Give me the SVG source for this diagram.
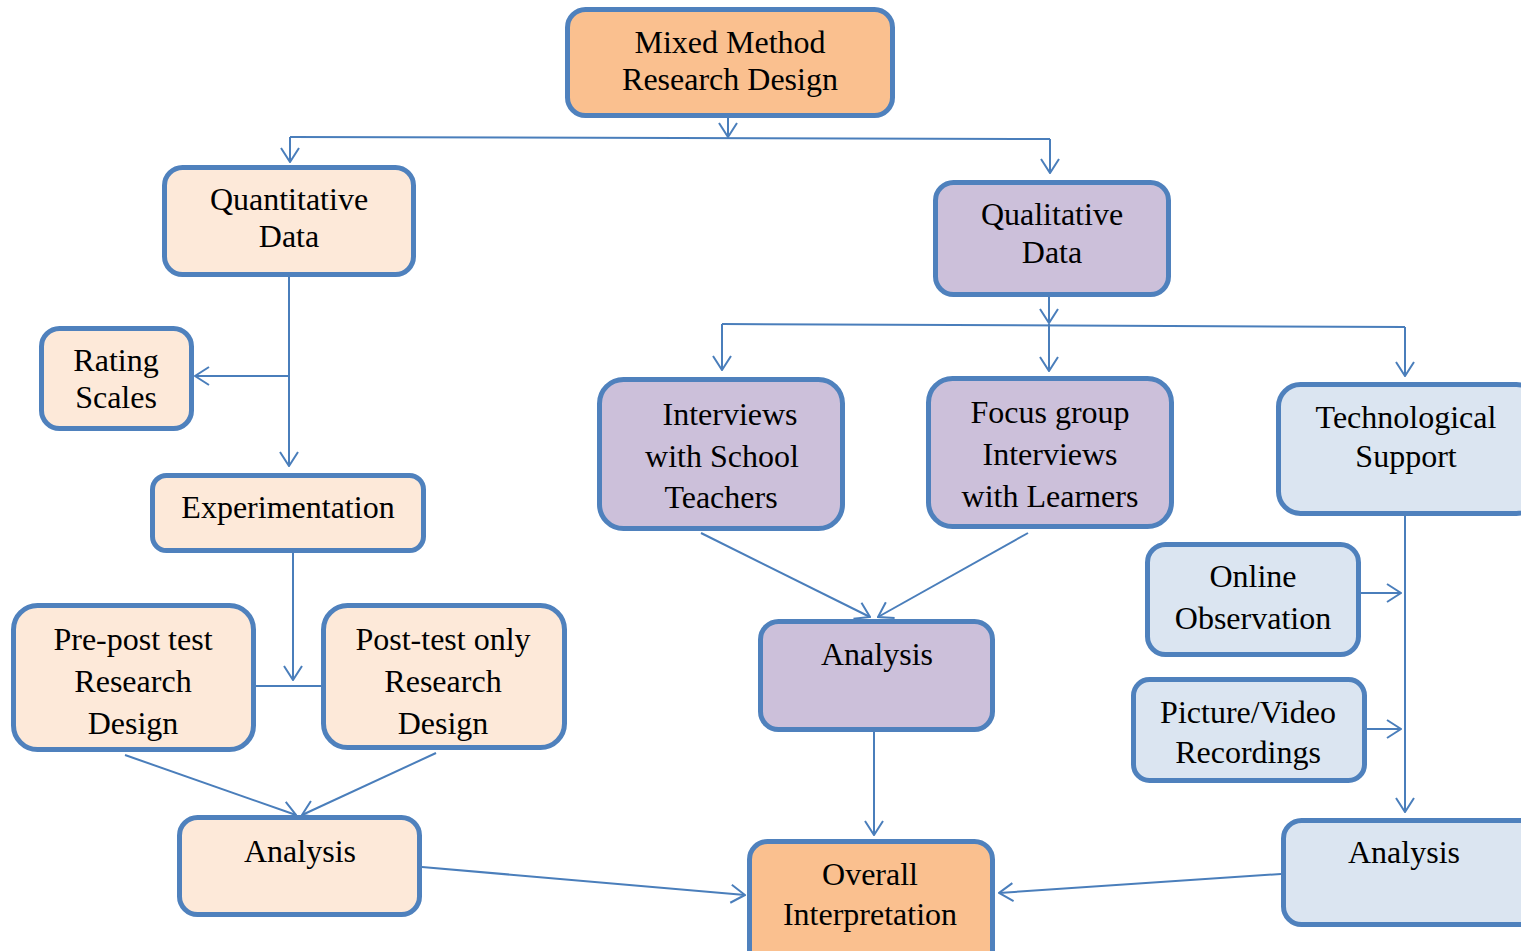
<svg xmlns="http://www.w3.org/2000/svg" width="1521" height="951" viewBox="0 0 1521 951">
  <style>
    .box { stroke: #4f81bd; stroke-width: 5; }
    .orange { fill: #fac08f; }
    .peach { fill: #fde9d9; }
    .purple { fill: #ccc0da; }
    .blue { fill: #dbe5f1; }
    .lbl { font-family: "Liberation Serif", "Times New Roman", serif; font-size: 32px; fill: #000; text-anchor: middle; }
    .conn { stroke: #4a7ebb; stroke-width: 2; fill: none; }
    .arr { marker-end: url(#open); }
  </style>
  <defs>
    <marker id="open" markerUnits="userSpaceOnUse" viewBox="0 0 16 20" refX="15" refY="10" markerWidth="16" markerHeight="20" orient="auto">
      <path d="M1,1 L15,10 L1,19" fill="none" stroke="#4a7ebb" stroke-width="2"/>
    </marker>
  </defs>

  <rect width="1521" height="951" fill="#ffffff"/>

  <!-- connectors -->
  <g id="connectors">
    <path class="conn arr" d="M728,118 L728,137"/>
    <path class="conn" d="M290,137 L1050,139"/>
    <path class="conn arr" d="M290,137 L290,162"/>
    <path class="conn arr" d="M1050,139 L1050,173"/>
    <path class="conn arr" d="M289,277 L289,466"/>
    <path class="conn arr" d="M289,376 L195,376"/>
    <path class="conn arr" d="M293,553 L293,680"/>
    <path class="conn" d="M256,686 L321,686"/>
    <path class="conn arr" d="M125,755 L296,815"/>
    <path class="conn arr" d="M436,753 L302,815"/>
    <path class="conn arr" d="M422,867 L745,895"/>
    <path class="conn arr" d="M1049,297 L1049,323"/>
    <path class="conn" d="M722,324 L1405,327"/>
    <path class="conn arr" d="M1049,324 L1049,371"/>
    <path class="conn arr" d="M722,324 L722,370"/>
    <path class="conn arr" d="M1405,327 L1405,376"/>
    <path class="conn arr" d="M701,533 L870,617"/>
    <path class="conn arr" d="M1028,533 L878,617"/>
    <path class="conn arr" d="M874,732 L874,835"/>
    <path class="conn arr" d="M1405,516 L1405,812"/>
    <path class="conn arr" d="M1361,593 L1401,593"/>
    <path class="conn arr" d="M1367,729 L1401,729"/>
    <path class="conn arr" d="M1281,874 L999,893"/>
  </g>

  <g id="mixed-method">
    <rect class="box orange" x="567.5" y="9.5" width="325" height="106" rx="18"/>
    <text class="lbl" x="730" y="53">Mixed Method</text>
    <text class="lbl" x="730" y="90">Research Design</text>
  </g>

  <g id="quantitative">
    <rect class="box peach" x="164.5" y="167.5" width="249" height="107" rx="18"/>
    <text class="lbl" x="289" y="210">Quantitative</text>
    <text class="lbl" x="289" y="247">Data</text>
  </g>

  <g id="qualitative">
    <rect class="box purple" x="935.5" y="182.5" width="233" height="112" rx="18"/>
    <text class="lbl" x="1052" y="225">Qualitative</text>
    <text class="lbl" x="1052" y="263">Data</text>
  </g>

  <g id="rating-scales">
    <rect class="box peach" x="41.5" y="328.5" width="150" height="100" rx="18"/>
    <text class="lbl" x="116" y="371">Rating</text>
    <text class="lbl" x="116" y="408">Scales</text>
  </g>

  <g id="experimentation">
    <rect class="box peach" x="152.5" y="475.5" width="271" height="75" rx="14"/>
    <text class="lbl" x="288" y="518">Experimentation</text>
  </g>

  <g id="pre-post">
    <rect class="box peach" x="13.5" y="605.5" width="240" height="144" rx="24"/>
    <text class="lbl" x="133" y="650">Pre-post test</text>
    <text class="lbl" x="133" y="692">Research</text>
    <text class="lbl" x="133" y="734">Design</text>
  </g>

  <g id="post-only">
    <rect class="box peach" x="323.5" y="605.5" width="241" height="142" rx="24"/>
    <text class="lbl" x="443" y="650">Post-test only</text>
    <text class="lbl" x="443" y="692">Research</text>
    <text class="lbl" x="443" y="734">Design</text>
  </g>

  <g id="analysis-quant">
    <rect class="box peach" x="179.5" y="817.5" width="240" height="97" rx="18"/>
    <text class="lbl" x="300" y="862">Analysis</text>
  </g>

  <g id="interviews-teachers">
    <rect class="box purple" x="599.5" y="379.5" width="243" height="149" rx="24"/>
    <text class="lbl" x="730" y="425">Interviews</text>
    <text class="lbl" x="722" y="467">with School</text>
    <text class="lbl" x="721" y="508">Teachers</text>
  </g>

  <g id="focus-group">
    <rect class="box purple" x="928.5" y="378.5" width="243" height="148" rx="24"/>
    <text class="lbl" x="1050" y="423">Focus group</text>
    <text class="lbl" x="1050" y="465">Interviews</text>
    <text class="lbl" x="1050" y="507">with Learners</text>
  </g>

  <g id="analysis-qual">
    <rect class="box purple" x="760.5" y="621.5" width="232" height="108" rx="18"/>
    <text class="lbl" x="877" y="665">Analysis</text>
  </g>

  <g id="technological-support">
    <rect class="box blue" x="1278.5" y="384.5" width="260" height="129" rx="22"/>
    <text class="lbl" x="1406" y="428">Technological</text>
    <text class="lbl" x="1406" y="467">Support</text>
  </g>

  <g id="online-observation">
    <rect class="box blue" x="1147.5" y="544.5" width="211" height="110" rx="18"/>
    <text class="lbl" x="1253" y="587">Online</text>
    <text class="lbl" x="1253" y="629">Observation</text>
  </g>

  <g id="picture-video">
    <rect class="box blue" x="1133.5" y="679.5" width="231" height="101" rx="16"/>
    <text class="lbl" x="1248" y="723">Picture/Video</text>
    <text class="lbl" x="1248" y="763">Recordings</text>
  </g>

  <g id="analysis-tech">
    <rect class="box blue" x="1283.5" y="820.5" width="260" height="104" rx="18"/>
    <text class="lbl" x="1404" y="863">Analysis</text>
  </g>

  <g id="overall-interpretation">
    <rect class="box orange" x="749.5" y="841.5" width="243" height="130" rx="18"/>
    <text class="lbl" x="870" y="885">Overall</text>
    <text class="lbl" x="870" y="925">Interpretation</text>
  </g>
</svg>
